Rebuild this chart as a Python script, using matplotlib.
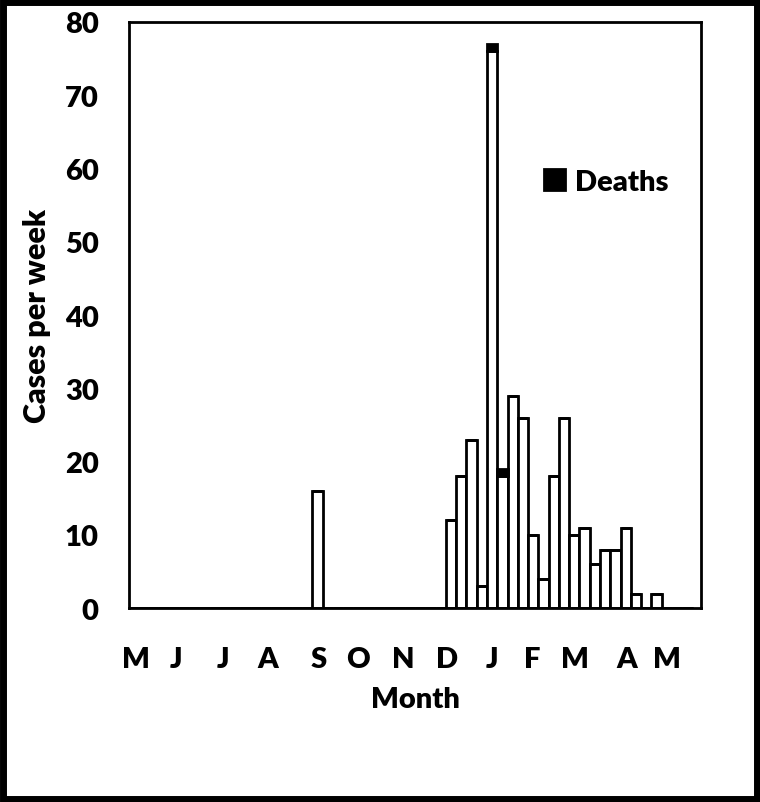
import matplotlib
matplotlib.use("Agg")
import matplotlib.pyplot as plt
from matplotlib.patches import Rectangle

plt.rcParams['font.family'] = ['Lato', 'DejaVu Sans']
plt.rcParams['font.weight'] = 'heavy'

# Weekly data (week index from start of axis)
n_weeks = 55
cases = [0] * n_weeks
cases[18] = 16
dec_to_may = [12, 18, 23, 3, 76, 18, 29, 26, 10, 4, 18, 26, 10, 11, 6, 8, 8, 11, 2, 0, 2]
for k, v in enumerate(dec_to_may):
    cases[31 + k] = v
deaths = [0] * n_weeks
deaths[35] = 1
deaths[36] = 1

month_labels = ['M', 'J', 'J', 'A', 'S', 'O', 'N', 'D', 'J', 'F', 'M', 'A', 'M']
month_pos = [0.86, 4.7, 9.3, 13.7, 18.6, 22.4, 26.8, 31.1, 35.5, 39.4, 43.6, 48.6, 52.5]
y_ticks = [0, 10, 20, 30, 40, 50, 60, 70, 80]

fig = plt.figure(figsize=(7.6, 8.03), dpi=100)
ax = fig.add_axes([0.170, 0.2412, 0.752, 0.7305])

weeks = list(range(n_weeks))
ax.bar(weeks, cases, width=1.0, align='edge', color='white', edgecolor='black', linewidth=2)
ax.bar(weeks, deaths, width=1.0, align='edge', bottom=cases, color='black',
       edgecolor='black', linewidth=2, label='Deaths')

ax.set_xlim(0.17, 55.8)
ax.set_ylim(0, 80)
ax.set_yticks(y_ticks)
ax.set_xticks(month_pos)
ax.set_xticklabels(month_labels)
ax.tick_params(axis='both', length=0, labelsize=21)
ax.tick_params(axis='y', pad=22)
ax.tick_params(axis='x', pad=27)
for lab in ax.get_xticklabels() + ax.get_yticklabels():
    lab.set_fontweight('heavy')
for s in ax.spines.values():
    s.set_linewidth(2)

ax.set_xlabel('Month', fontsize=21, fontweight='heavy', labelpad=10)
ax.set_ylabel('Cases per week', fontsize=22, fontweight='heavy', labelpad=10)

leg = ax.legend(loc='center left', bbox_to_anchor=(0.68, 0.727), frameon=False,
                handlelength=0.7, handleheight=0.7, handletextpad=0.35,
                prop={'weight': 'heavy', 'size': 21})

# outer figure frame
fig.patches.append(Rectangle((0.004, 0.004), 0.992, 0.992, transform=fig.transFigure,
                             fill=False, edgecolor='black', linewidth=5))

fig.savefig('out.png', dpi=100)
